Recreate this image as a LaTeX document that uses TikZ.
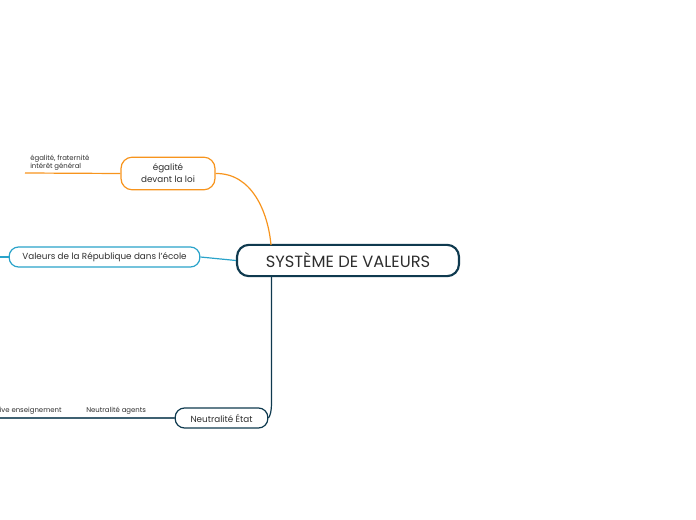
\documentclass[tikz,border=0pt]{standalone}
\usepackage{fontspec}
\setmainfont{Poppins}
\definecolor{navy}{HTML}{0F3A4F}
\definecolor{orng}{HTML}{F7941D}
\definecolor{blu}{HTML}{2AA3CA}
\definecolor{txt}{HTML}{2E2E2E}
\begin{document}
\begin{tikzpicture}[x=0.75pt,y=-0.75pt,
  box/.style={draw,rounded corners=8.5pt,text=txt,inner sep=0pt,align=center},
  lab/.style={text=txt,inner sep=0pt,font=\fontsize{5.2}{6.2}\selectfont,align=left},
  conn/.style={line width=0.9pt}]
\useasboundingbox (0,0) rectangle (696,520);
\node[box,draw=navy,line width=1.6pt,minimum width=166.5pt,minimum height=23.5pt,rounded corners=9pt,font=\fontsize{12.2}{14}\selectfont] (root) at (348,260.5) {SYSTÈME DE VALEURS};
\node[box,draw=orng,line width=0.9pt,minimum width=70.5pt,minimum height=24.5pt,font=\fontsize{6.6}{9}\selectfont] (eg) at (168,173.5) {égalité\\devant la loi};
\node[box,draw=blu,line width=0.9pt,minimum width=143pt,minimum height=15pt,rounded corners=7pt,font=\fontsize{6.6}{8}\selectfont] (val) at (104.5,257) {Valeurs de la République dans l’école};
\node[box,draw=navy,line width=0.9pt,minimum width=69.5pt,minimum height=15pt,rounded corners=7pt,font=\fontsize{6.6}{8}\selectfont] (neu) at (221.5,418) {Neutralité État};
% connectors from root
\coordinate (r1) at (271,245);
\draw[conn,orng] (eg.east) .. controls (252,173) and (268,212) .. (r1);
\draw[conn,blu] (val.east) -- (root.west);
\coordinate (r3) at (271.5,276);
\draw[conn,navy] (r3) -- (271.5,402) .. controls (271.5,412) and (270,416) .. (neu.east);
% sub-branches
\coordinate (e1) at (25,173);
\draw[conn,orng] (eg.west) -- (e1);
\node[lab,anchor=south west] (egl) at (30,170.5) {égalité, fraternité\\intérêt général};
\coordinate (v1) at (0,257);
\draw[conn,blu] (val.west) -- (v1);
\coordinate (n1) at (150,418);
\coordinate (n2) at (65,418);
\coordinate (n3) at (0,418);
\draw[conn,navy!80] (neu.west) -- (n1) -- (n2) -- (n3);
\node[lab,anchor=south west] (na) at (86,414.5) {Neutralité agents};
\node[lab,anchor=south west] (nb) at (-0.5,414.5) {ive enseignement};
\end{tikzpicture}
\end{document}
